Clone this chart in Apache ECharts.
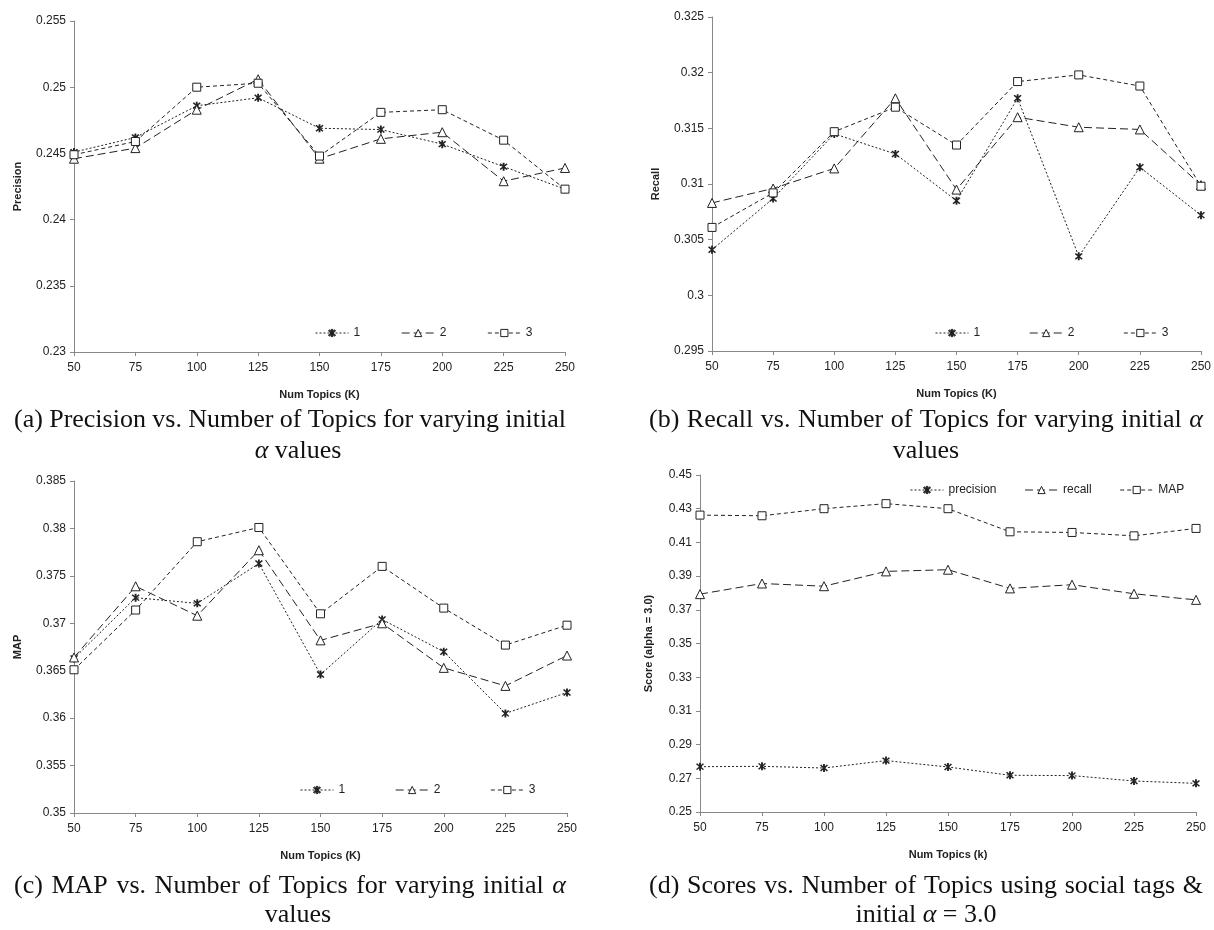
<!DOCTYPE html>
<html>
<head>
<meta charset="utf-8">
<title>Scores vs. Number of Topics</title>
<script src="https://cdn.jsdelivr.net/npm/echarts@6/dist/echarts.min.js"></script>
<style>
  html, body { margin: 0; padding: 0; background: #fff; }
  #chart { width: 1214px; height: 930px; }
</style>
</head>
<body>
<div id="chart"></div>
<script>
// x axis: number of topics
const topics = ['50', '75', '100', '125', '150', '175', '200', '225', '250'];

// (a) precision for initial alpha = 1, 2, 3
const precision1 = [0.2451, 0.2462, 0.2486, 0.2492, 0.2469, 0.2468, 0.2457, 0.2440, 0.2423];
const precision2 = [0.2446, 0.2454, 0.2483, 0.2506, 0.2446, 0.2461, 0.2466, 0.2429, 0.2439];
const precision3 = [0.2449, 0.2459, 0.2500, 0.2503, 0.2448, 0.2481, 0.2483, 0.2460, 0.2423];

// (b) recall
const recall1 = [0.3041, 0.3087, 0.3145, 0.3127, 0.3085, 0.3177, 0.3035, 0.3115, 0.3072];
const recall2 = [0.3083, 0.3096, 0.3114, 0.3177, 0.3095, 0.3160, 0.3151, 0.3149, 0.3099];
const recall3 = [0.3061, 0.3092, 0.3147, 0.3169, 0.3135, 0.3192, 0.3198, 0.3188, 0.3098];

// (c) MAP
const map1 = [0.3663, 0.3727, 0.3721, 0.3763, 0.3646, 0.3704, 0.3670, 0.3605, 0.3627];
const map2 = [0.3664, 0.3739, 0.3708, 0.3777, 0.3682, 0.3700, 0.3653, 0.3634, 0.3666];
const map3 = [0.3651, 0.3714, 0.3786, 0.3801, 0.3710, 0.3760, 0.3716, 0.3677, 0.3698];

// (d) scores with social tags, alpha = 3.0
const tagPrecision = [0.2769, 0.2771, 0.2761, 0.2805, 0.2767, 0.2718, 0.2716, 0.2684, 0.2670];
const tagRecall = [0.3793, 0.3856, 0.3840, 0.3928, 0.3938, 0.3827, 0.3849, 0.3795, 0.3759];
const tagMap = [0.4262, 0.4258, 0.4300, 0.4330, 0.4300, 0.4163, 0.4159, 0.4139, 0.4183];

const sans = '"Liberation Sans", Arial, sans-serif';
const serif = '"Liberation Serif", "Times New Roman", serif';
const ink = '#222';
const capFont = '26px ' + serif;
const capItalic = 'italic 26px ' + serif;

// excel style star marker (x with a vertical bar)
const starPath = 'path://M4,0L6,0L6,10L4,10Z M1.9,0.7L9.3,8.1L8.1,9.3L0.7,1.9Z M8.1,0.7L9.3,1.9L1.9,9.3L0.7,8.1Z';

const marks = {
    star: { symbol: starPath, size: 8, fill: ink, dash: [2, 2] },
    tri: { symbol: 'triangle', size: 9, fill: '#fff', dash: [8, 4] },
    sq: { symbol: 'rect', size: 8, fill: '#fff', dash: [4, 3] }
};

function line(name, data, idx, kind) {
    const m = marks[kind];
    return {
        name: name,
        type: 'line',
        xAxisIndex: idx,
        yAxisIndex: idx,
        data: data,
        symbol: m.symbol,
        symbolSize: m.size,
        showAllSymbol: true,
        itemStyle: { color: m.fill, borderColor: ink, borderWidth: kind === 'star' ? 0 : 1 },
        lineStyle: { color: ink, width: 1, type: m.dash },
        emphasis: { disabled: true }
    };
}

function xAxis(idx, name) {
    return {
        gridIndex: idx,
        type: 'category',
        boundaryGap: false,
        data: topics,
        name: name,
        nameLocation: 'middle',
        nameGap: 37,
        nameTextStyle: { fontFamily: sans, fontSize: 11, fontWeight: 'bold', color: ink },
        axisLine: { lineStyle: { color: '#888', width: 1 } },
        axisTick: { show: true, length: 4, lineStyle: { color: '#888' } },
        axisLabel: { fontFamily: sans, fontSize: 12, color: ink, margin: 10 },
        splitLine: { show: false }
    };
}

function yAxis(idx, name, min, max, step, gap) {
    return {
        gridIndex: idx,
        type: 'value',
        min: min,
        max: max,
        interval: step,
        name: name,
        nameLocation: 'middle',
        nameGap: gap,
        nameTextStyle: { fontFamily: sans, fontSize: 11, fontWeight: 'bold', color: ink },
        axisLine: { show: true, lineStyle: { color: '#888', width: 1 } },
        axisTick: { show: true, length: 4, lineStyle: { color: '#888' } },
        axisLabel: { fontFamily: sans, fontSize: 12, color: ink, margin: 8 },
        splitLine: { show: false }
    };
}

function legend(names, left, top, gap) {
    return {
        data: names,
        left: left,
        top: top,
        itemWidth: 33,
        itemHeight: 9,
        itemGap: gap,
        selectedMode: false,
        lineStyle: { width: 1 },
        itemStyle: { borderWidth: 1 },
        textStyle: { fontFamily: sans, fontSize: 12, color: ink }
    };
}

// captions: first line justified across the column like the paper, last line centred
const ctx = document.createElement('canvas').getContext('2d');
function wordWidth(w) {
    ctx.font = w === 'α' ? capItalic : capFont;
    return ctx.measureText(w).width;
}

function justified(text, left, right, y) {
    const words = text.split(' ');
    const widths = words.map(wordWidth);
    const used = widths.reduce((a, b) => a + b, 0);
    const gap = (right - left - used) / (words.length - 1);
    let x = left;
    return words.map((w, i) => {
        const el = {
            type: 'text', x: x, y: y, silent: true,
            style: { text: w, font: w === 'α' ? capItalic : capFont, fill: '#111', align: 'left', verticalAlign: 'middle' }
        };
        x += widths[i] + gap;
        return el;
    });
}

function centred(text, cx, y) {
    return {
        type: 'text', x: cx, y: y, silent: true,
        style: {
            text: text, font: capFont, fill: '#111', align: 'center', verticalAlign: 'middle',
            rich: { i: { font: capItalic, fill: '#111' } }
        }
    };
}

const option = {
    animation: false,
    backgroundColor: '#fff',
    grid: [
        { left: 74, top: 21, width: 491, height: 331 },
        { left: 712, top: 17, width: 490, height: 334 },
        { left: 74, top: 481, width: 493, height: 332 },
        { left: 700, top: 475, width: 496, height: 337 }
    ],
    xAxis: [
        xAxis(0, 'Num Topics (K)'),
        xAxis(1, 'Num Topics (K)'),
        xAxis(2, 'Num Topics (K)'),
        xAxis(3, 'Num Topics (k)')
    ],
    yAxis: [
        yAxis(0, 'Precision', 0.23, 0.255, 0.005, 51),
        yAxis(1, 'Recall', 0.295, 0.325, 0.005, 51),
        yAxis(2, 'MAP', 0.35, 0.385, 0.005, 51),
        yAxis(3, 'Score (alpha = 3.0)', 0.25, 0.45, 0.02, 46)
    ],
    legend: [
        legend(['1', '2', '3'], 310, 322, 41),
        legend(['1', '2', '3'], 930, 322, 49),
        legend(['1', '2', '3'], 295, 779, 50),
        legend(['precision', 'recall', 'MAP'], 905, 479, 28)
    ],
    series: [
        line('1', precision1, 0, 'star'),
        line('2', precision2, 0, 'tri'),
        line('3', precision3, 0, 'sq'),
        line('1', recall1, 1, 'star'),
        line('2', recall2, 1, 'tri'),
        line('3', recall3, 1, 'sq'),
        line('1', map1, 2, 'star'),
        line('2', map2, 2, 'tri'),
        line('3', map3, 2, 'sq'),
        line('precision', tagPrecision, 3, 'star'),
        line('recall', tagRecall, 3, 'tri'),
        line('MAP', tagMap, 3, 'sq')
    ],
    graphic: [].concat(
        justified('(a) Precision vs. Number of Topics for varying initial', 14, 566, 420),
        [centred('{i|α} values', 298, 451)],
        justified('(b) Recall vs. Number of Topics for varying initial α', 649, 1203, 420),
        [centred('values', 926, 451)],
        justified('(c) MAP vs. Number of Topics for varying initial α', 14, 566, 886),
        [centred('values', 298, 915)],
        justified('(d) Scores vs. Number of Topics using social tags &', 649, 1203, 886),
        [centred('initial {i|α} = 3.0', 926, 915)]
    )
};

const chart = echarts.init(document.getElementById('chart'));
chart.setOption(option);
</script>
</body>
</html>
